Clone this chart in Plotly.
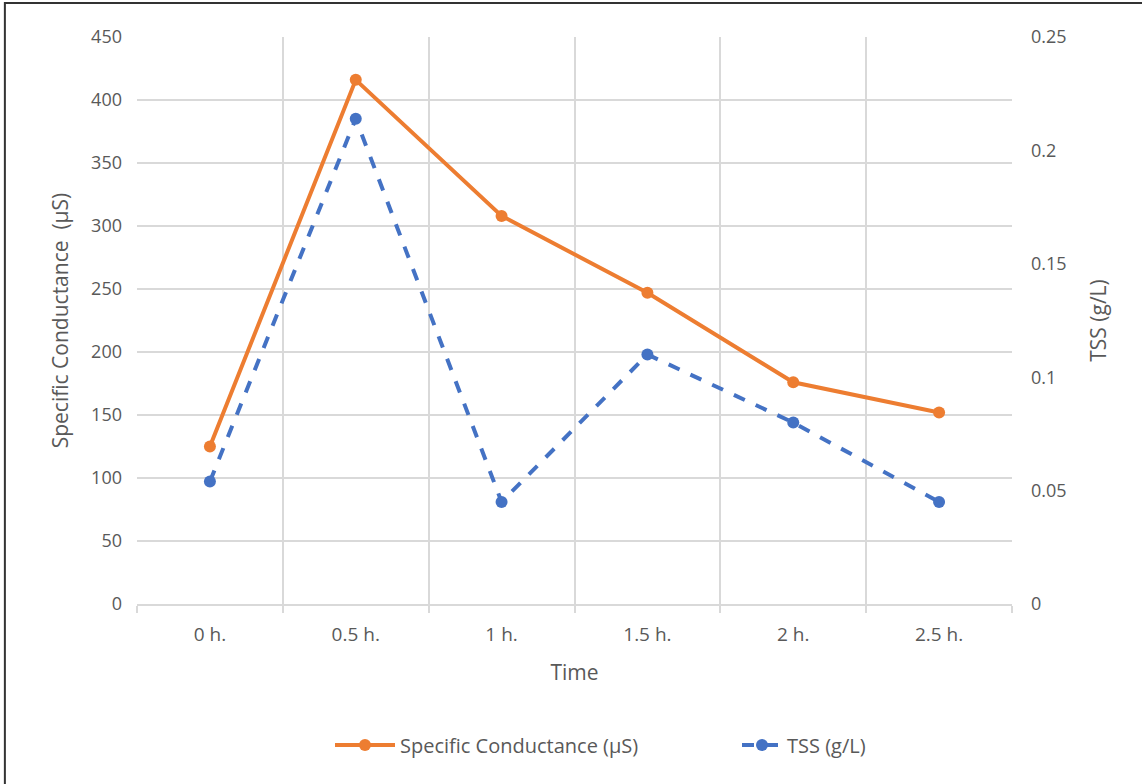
import plotly.graph_objects as go

times = ["0 h.", "0.5 h.", "1 h.", "1.5 h.", "2 h.", "2.5 h."]
conductance = [125, 416, 308, 247, 176, 152]
tss = [0.054, 0.214, 0.045, 0.11, 0.08, 0.045]

font_family = "Open Sans, Lato, sans-serif"
gray = "#595959"
grid = "#d9d9d9"

fig = go.Figure()
fig.add_trace(go.Scatter(
    x=times, y=conductance, name="Specific Conductance (µS)",
    mode="lines+markers", legend="legend2",
    line=dict(color="#ED7D31", width=4),
    marker=dict(symbol="circle", size=12, color="#ED7D31"),
))
fig.add_trace(go.Scatter(
    x=times, y=tss, name="TSS (g/L)", yaxis="y2", legend="legend3",
    mode="lines+markers",
    line=dict(color="#4472C4", width=4, dash="dash"),
    marker=dict(symbol="circle", size=12, color="#4472C4"),
))

legend_common = dict(orientation="h", xref="container", yref="container",
                     yanchor="middle", xanchor="left", visible=True,
                     font=dict(size=20, color=gray), bgcolor="rgba(0,0,0,0)")

fig.update_layout(
    width=1142, height=784,
    paper_bgcolor="white", plot_bgcolor="white",
    margin=dict(l=137, r=130, t=37, b=180, autoexpand=False),
    font=dict(family=font_family, color=gray, size=18),
    showlegend=True,
    xaxis=dict(
        type="category", tickson="boundaries", automargin=False,
        range=[-0.5, len(times) - 0.5],
        showgrid=True, gridcolor=grid, gridwidth=2,
        ticks="outside", ticklen=7, tickcolor=grid, tickwidth=2,
        showline=True, linecolor=grid, linewidth=2,
        tickfont=dict(size=19, color=gray), ticklabelstandoff=12,
        title=dict(text="Time", font=dict(size=21, color=gray), standoff=20),
    ),
    yaxis=dict(
        range=[0, 450], dtick=50, automargin=False,
        showgrid=True, gridcolor=grid, gridwidth=2,
        zeroline=False, showline=False,
        tickfont=dict(size=18, color=gray),
        ticks="", ticklabelstandoff=14,
        title=dict(text="Specific Conductance  (µS)", font=dict(size=21, color=gray), standoff=16),
    ),
    yaxis2=dict(
        range=[0, 0.25], dtick=0.05, overlaying="y", side="right", automargin=False,
        showgrid=False, zeroline=False, showline=False,
        tickfont=dict(size=18, color=gray), ticklabelstandoff=18,
        tickformat="~g",
        title=dict(text="TSS (g/L)", font=dict(size=21, color=gray), standoff=25),
    ),
    legend2=dict(x=330 / 1142, y=(784 - 745) / 784, itemwidth=60, **legend_common),
    legend3=dict(x=737 / 1142, y=(784 - 745) / 784, itemwidth=40, **legend_common),
    shapes=[dict(type="rect", xref="paper", yref="paper", x0=-0.151, x1=1.3, y0=-0.4, y1=1.06,
                 line=dict(color="#333333", width=2), layer="below")],
)

fig.write_html("out.html", config={"displayModeBar": False},
               post_script="document.body.style.margin='0px';")
